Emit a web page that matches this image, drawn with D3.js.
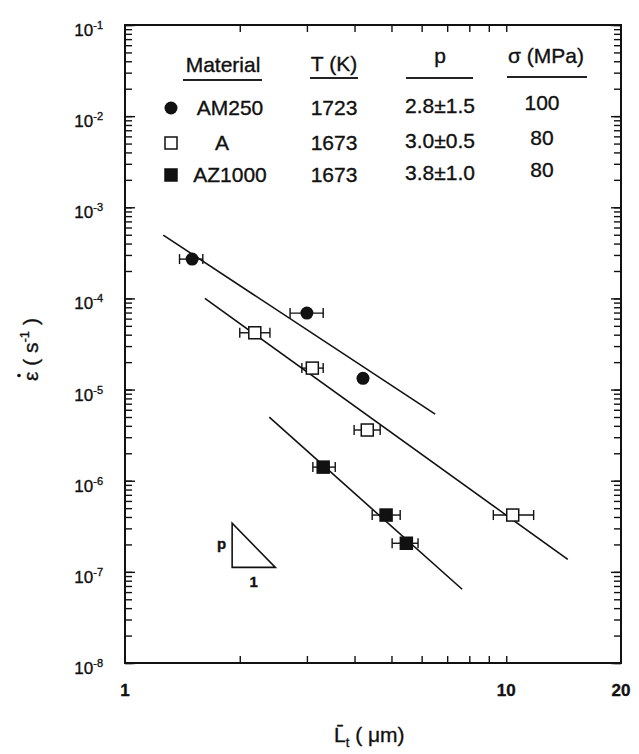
<!DOCTYPE html>
<html>
<head>
<meta charset="utf-8">
<script src="https://cdn.jsdelivr.net/npm/d3@7"></script>
<style>
  body { margin: 0; background: #fff; }
  svg text { font-family: "Liberation Sans", Arial, Helvetica, sans-serif; fill: #111; stroke: #111; stroke-width: 0.35px; }
</style>
</head>
<body>
<div id="chart"></div>
<script>
// data
const materials = ["AM250", "A", "AZ1000"];
const temps = ["1723", "1673", "1673"];
const pValues = ["2.8\u00b11.5", "3.0\u00b10.5", "3.8\u00b11.0"];
const stresses = ["100", "80", "80"];
const symbols = ["circle", "open", "square"];

// grain size (um), strain rate (1/s), error bar limits
const am250 = [
  { L: 1.50, rate: 2.7e-4, lo: 1.39, hi: 1.60 },
  { L: 3.00, rate: 6.9e-5, lo: 2.71, hi: 3.31 },
  { L: 4.21, rate: 1.33e-5, lo: null, hi: null }
];
const aMat = [
  { L: 2.19, rate: 4.2e-5, lo: 2.00, hi: 2.40 },
  { L: 3.10, rate: 1.72e-5, lo: 2.91, hi: 3.31 },
  { L: 4.32, rate: 3.6e-6, lo: 3.99, hi: 4.67 },
  { L: 10.4, rate: 4.2e-7, lo: 9.25, hi: 11.8 }
];
const az1000 = [
  { L: 3.31, rate: 1.41e-6, lo: 3.11, hi: 3.56 },
  { L: 4.84, rate: 4.2e-7, lo: 4.45, hi: 5.27 },
  { L: 5.47, rate: 2.06e-7, lo: 5.02, hi: 5.87 }
];
const seriesData = [am250, aMat, az1000];

// fitted lines: [x0, y0, x1, y1]
const fitLines = [
  [1.26, 4.95e-4, 6.51, 5.37e-6],
  [1.62, 1.0e-4, 14.5, 1.37e-7],
  [2.39, 4.98e-6, 7.66, 6.44e-8]
];

// slope triangle corners
const triangle = [[1.91, 3.41e-7], [1.91, 1.12e-7], [2.48, 1.12e-7]];

const xDomain = [1, 20];
const yDomain = [1e-8, 1e-1];
const xLabels = [1, 10, 20];
const xMinorTicks = [2, 3, 4, 5, 6, 7, 8, 9, 10];
const yExponents = [-1, -2, -3, -4, -5, -6, -7, -8];

const W = 639, H = 754;
const margin = { top: 25, right: 18, bottom: 91, left: 125 };
const width = W - margin.left - margin.right,
  height = H - margin.top - margin.bottom;

const svg = d3.select("#chart").append("svg")
  .attr("width", W).attr("height", H);
const g = svg.append("g")
  .attr("transform", `translate(${margin.left},${margin.top})`);

const x = d3.scaleLog().domain(xDomain).range([0, width]);
const y = d3.scaleLog().domain(yDomain).range([height, 0]);

// axes (ticks inward on all four sides)
const yTicks = y.ticks();
const yMajor = yExponents.map(e => Math.pow(10, e));

function styleAxis(sel) {
  sel.select(".domain").remove();
  sel.selectAll(".tick line").attr("stroke", "#111").attr("stroke-width", 1.4);
}

g.append("g").call(d3.axisLeft(y).tickValues(yTicks).tickSize(-7).tickFormat(""))
  .call(styleAxis);
g.append("g").attr("transform", `translate(${width},0)`)
  .call(d3.axisRight(y).tickValues(yTicks).tickSize(-7).tickFormat(""))
  .call(styleAxis);
g.append("g").call(d3.axisLeft(y).tickValues(yMajor).tickSize(-10).tickFormat(""))
  .call(styleAxis);
g.append("g").attr("transform", `translate(${width},0)`)
  .call(d3.axisRight(y).tickValues(yMajor).tickSize(-10).tickFormat(""))
  .call(styleAxis);
g.append("g").attr("transform", `translate(0,${height})`)
  .call(d3.axisBottom(x).tickValues(xMinorTicks).tickSize(-7).tickFormat(""))
  .call(styleAxis);
g.append("g")
  .call(d3.axisTop(x).tickValues(xMinorTicks).tickSize(-7).tickFormat(""))
  .call(styleAxis);

g.append("rect")
  .attr("width", width).attr("height", height)
  .attr("fill", "none").attr("stroke", "#111").attr("stroke-width", 2);

// y tick labels 10^n
const yl = g.append("g").selectAll("text").data(yExponents).join("text")
  .attr("x", -22)
  .attr("y", d => y(Math.pow(10, d)) + 11)
  .attr("text-anchor", "end")
  .style("font-size", "17px");
yl.append("tspan").text("10");
yl.append("tspan").attr("dy", -7).style("font-size", "11px").text(d => "-" + (-d));

// x tick labels
g.append("g").selectAll("text").data(xLabels).join("text")
  .attr("x", d => x(d))
  .attr("y", height + 33)
  .attr("text-anchor", "middle")
  .style("font-size", "17px")
  .style("font-weight", "bold")
  .text(d => d);

// axis titles
const xt = svg.append("text")
  .attr("x", 334).attr("y", 742)
  .style("font-size", "21px");
xt.append("tspan").text("L\u0304");
xt.append("tspan").attr("dy", 5).style("font-size", "13px").text("t");
xt.append("tspan").attr("dy", -5).text(" ( \u03bcm)");

const ytg = svg.append("g").attr("transform", "translate(38,381) rotate(-90)");
const yt = ytg.append("text").attr("x", 0).attr("y", 0)
  .style("font-size", "21px");
yt.append("tspan").text("\u03b5 ( s");
yt.append("tspan").attr("dy", -9).style("font-size", "13px").text("-1");
yt.append("tspan").attr("dy", 9).text(" )");
ytg.append("circle").attr("cx", 5.5).attr("cy", -19).attr("r", 1.8).attr("fill", "#111");

// fit lines
g.append("g").selectAll("line").data(fitLines).join("line")
  .attr("x1", d => x(d[0])).attr("y1", d => y(d[1]))
  .attr("x2", d => x(d[2])).attr("y2", d => y(d[3]))
  .attr("stroke", "#111").attr("stroke-width", 1.6);

// error bars
seriesData.forEach(pts => {
  const eb = g.append("g").selectAll("g").data(pts.filter(d => d.lo != null)).join("g")
    .attr("stroke", "#111").attr("stroke-width", 1.4);
  eb.append("line")
    .attr("x1", d => x(d.lo)).attr("x2", d => x(d.hi))
    .attr("y1", d => y(d.rate)).attr("y2", d => y(d.rate));
  eb.append("line")
    .attr("x1", d => x(d.lo)).attr("x2", d => x(d.lo))
    .attr("y1", d => y(d.rate) - 5).attr("y2", d => y(d.rate) + 5);
  eb.append("line")
    .attr("x1", d => x(d.hi)).attr("x2", d => x(d.hi))
    .attr("y1", d => y(d.rate) - 5).attr("y2", d => y(d.rate) + 5);
});

function drawSymbol(sel, type) {
  if (type === "circle") {
    sel.append("circle").attr("r", 6.5).attr("fill", "#111");
  } else {
    sel.append("rect").attr("x", -6).attr("y", -6).attr("width", 12).attr("height", 12)
      .attr("fill", type === "open" ? "#fff" : "#111")
      .attr("stroke", "#111").attr("stroke-width", 1.5);
  }
}

seriesData.forEach((pts, i) => {
  g.append("g").selectAll("g").data(pts).join("g")
    .attr("transform", d => `translate(${x(d.L)},${y(d.rate)})`)
    .each(function () { drawSymbol(d3.select(this), symbols[i]); });
});

// slope triangle
g.append("path")
  .attr("d", d3.line().x(d => x(d[0])).y(d => y(d[1]))(triangle) + "Z")
  .attr("fill", "none").attr("stroke", "#111").attr("stroke-width", 1.6);
g.append("text")
  .attr("x", x(triangle[0][0]) - 6).attr("y", (y(triangle[0][1]) + y(triangle[1][1])) / 2 + 4)
  .attr("text-anchor", "end").style("font-size", "15px").style("font-weight", "bold").text("p");
g.append("text")
  .attr("x", (x(triangle[1][0]) + x(triangle[2][0])) / 2).attr("y", y(triangle[1][1]) + 20)
  .attr("text-anchor", "middle").style("font-size", "15px").style("font-weight", "bold").text("1");

// legend table
const leg = svg.append("g").style("font-size", "21px");
const headers = [
  { t: "Material", x: 223, y: 72, u: [183, 262, 80] },
  { t: "T (K)", x: 334, y: 71, u: [310, 358, 78] },
  { t: "p", x: 440, y: 63, u: [406, 473, 78] },
  { t: "\u03c3 (MPa)", x: 546, y: 63, u: [507, 587, 77] }
];
headers.forEach(h => {
  leg.append("text").attr("x", h.x).attr("y", h.y).attr("text-anchor", "middle").text(h.t);
  leg.append("line").attr("x1", h.u[0]).attr("x2", h.u[1]).attr("y1", h.u[2]).attr("y2", h.u[2])
    .attr("stroke", "#222").attr("stroke-width", 1.8);
});

const rowY = [115, 150, 182];
materials.forEach((m, i) => {
  const ry = rowY[i];
  drawSymbol(leg.append("g").attr("transform", `translate(171,${ry - 7})`), symbols[i]);
  leg.append("text").attr("x", i === 1 ? 222 : 230).attr("y", ry).attr("text-anchor", "middle").text(m);
  leg.append("text").attr("x", 334).attr("y", ry).attr("text-anchor", "middle").text(temps[i]);
  leg.append("text").attr("x", 440).attr("y", ry - 2).attr("text-anchor", "middle").text(pValues[i]);
  leg.append("text").attr("x", 542).attr("y", ry - 5).attr("text-anchor", "middle").text(stresses[i]);
});
</script>
</body>
</html>
